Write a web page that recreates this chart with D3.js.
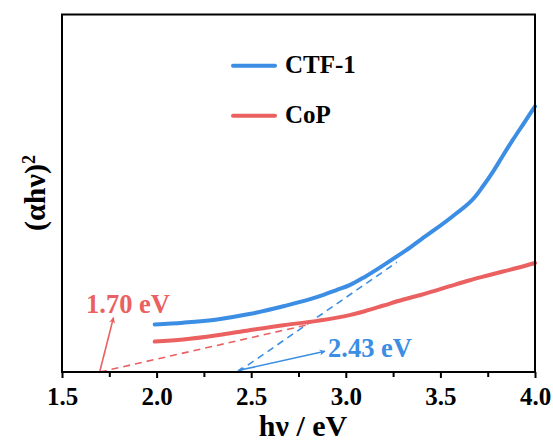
<!DOCTYPE html>
<html>
<head>
<meta charset="utf-8">
<script src="https://cdn.jsdelivr.net/npm/d3@7"></script>
<style>
  html, body { margin: 0; padding: 0; background: #fff; }
  svg { display: block; }
</style>
</head>
<body>
<svg id="chart" width="553" height="441"></svg>
<script>
// ---- data ----
const seriesNames = ["CTF-1", "CoP"];
const ctfX = [1.99, 2.14, 2.32, 2.49, 2.67, 2.85, 2.95, 3.02, 3.10, 3.20, 3.26, 3.32, 3.40, 3.47, 3.58, 3.68, 3.72, 3.78, 3.83, 3.88, 3.94, 4.00];
const ctfY = [1.33, 1.38, 1.47, 1.62, 1.84, 2.10, 2.29, 2.43, 2.66, 2.99, 3.20, 3.41, 3.72, 3.98, 4.42, 4.88, 5.16, 5.62, 6.05, 6.47, 6.95, 7.43];
const copX = [1.99, 2.14, 2.32, 2.49, 2.67, 2.85, 3.02, 3.10, 3.20, 3.30, 3.40, 3.47, 3.55, 3.65, 3.75, 3.83, 3.92, 4.00];
const copY = [0.85, 0.91, 1.03, 1.17, 1.31, 1.43, 1.59, 1.70, 1.86, 2.02, 2.16, 2.27, 2.40, 2.56, 2.70, 2.81, 2.93, 3.05];
// tangent (Tauc) extrapolation lines
const copTangentX = [1.70, 2.79];
const copTangentY = [0.00, 1.31];
const ctfTangentX = [2.43, 3.27];
const ctfTangentY = [0.00, 3.07];
const gapLabels = ["1.70 eV", "2.43 eV"];
const xTicks = [1.5, 2.0, 2.5, 3.0, 3.5, 4.0];
const xMinorTicks = [1.75, 2.25, 2.75, 3.25, 3.75];

// ---- layout ----
const W = 553, H = 441;
const M = { left: 62, right: 18, top: 14.5, bottom: 69 };
const blue = "#3b8ee3", red = "#eb6060";
const FONT = "'Liberation Serif', 'Times New Roman', Times, 'DejaVu Serif', serif";

const svg = d3.select("#chart")
  .attr("font-family", FONT).attr("font-weight", "bold");
const x = d3.scaleLinear().domain([1.5, 4.0]).range([M.left, W - M.right]);
const y = d3.scaleLinear().domain([0, 10]).range([H - M.bottom, M.top]);

const defs = svg.append("defs");
function marker(id, color) {
  defs.append("marker").attr("id", id)
    .attr("viewBox", "0 0 10 10").attr("refX", 9).attr("refY", 5)
    .attr("markerWidth", 7).attr("markerHeight", 6).attr("markerUnits", "userSpaceOnUse")
    .attr("orient", "auto-start-reverse")
    .append("path").attr("d", "M0,0 L10,5 L0,10 L3,5 Z").attr("fill", color);
}
marker("arrRed", red);
marker("arrBlue", blue);

const line = d3.line().x(d => x(d[0])).y(d => y(d[1])).curve(d3.curveMonotoneX);

// tangent dashed lines
svg.append("path").datum(copTangentX.map((v, i) => [v, copTangentY[i]]))
  .attr("d", d3.line().x(d => x(d[0])).y(d => y(d[1])))
  .attr("fill", "none").attr("stroke", red).attr("stroke-width", 1.6).attr("stroke-dasharray", "7,5");
svg.append("path").datum(ctfTangentX.map((v, i) => [v, ctfTangentY[i]]))
  .attr("d", d3.line().x(d => x(d[0])).y(d => y(d[1])))
  .attr("fill", "none").attr("stroke", blue).attr("stroke-width", 1.6).attr("stroke-dasharray", "7,5");

// curves
svg.append("path").datum(copX.map((v, i) => [v, copY[i]]))
  .attr("d", line).attr("fill", "none").attr("stroke", red).attr("stroke-width", 4).attr("stroke-linecap", "round");
svg.append("path").datum(ctfX.map((v, i) => [v, ctfY[i]]))
  .attr("d", line).attr("fill", "none").attr("stroke", blue).attr("stroke-width", 4).attr("stroke-linecap", "round");

// arrows
svg.append("line")
  .attr("x1", x(1.70)).attr("y1", y(0.02)).attr("x2", x(1.772)).attr("y2", y(1.52))
  .attr("stroke", red).attr("stroke-width", 1.6).attr("marker-end", "url(#arrRed)");
svg.append("line")
  .attr("x1", x(2.43)).attr("y1", y(0.04)).attr("x2", x(2.89)).attr("y2", y(0.58))
  .attr("stroke", blue).attr("stroke-width", 1.6)
  .attr("marker-end", "url(#arrBlue)").attr("marker-start", "url(#arrBlue)");

// gap labels
svg.append("text").attr("x", 86).attr("y", 313).attr("fill", red)
  .attr("font-size", 26.5).text(gapLabels[0]);
svg.append("text").attr("x", 328).attr("y", 357).attr("fill", blue)
  .attr("font-size", 26.5).text(gapLabels[1]);

// frame
svg.append("rect").attr("x", M.left).attr("y", M.top)
  .attr("width", W - M.left - M.right).attr("height", H - M.top - M.bottom)
  .attr("fill", "none").attr("stroke", "#000").attr("stroke-width", 2);

// x axis
const xAxis = svg.append("g").attr("transform", `translate(0,${H - M.bottom})`)
  .call(d3.axisBottom(x).tickValues(xTicks).tickFormat(d3.format(".1f")).tickSize(6).tickPadding(9))
  .attr("font-family", FONT).attr("font-size", 25);
xAxis.select(".domain").remove();
xAxis.selectAll(".tick line").attr("stroke", "#000").attr("stroke-width", 2);
xAxis.selectAll(".tick text").attr("fill", "#000");
const xMinor = svg.append("g").attr("transform", `translate(0,${H - M.bottom})`)
  .call(d3.axisBottom(x).tickValues(xMinorTicks).tickFormat("").tickSize(5));
xMinor.select(".domain").remove();
xMinor.selectAll(".tick line").attr("stroke", "#000").attr("stroke-width", 2);

// axis titles
svg.append("text").attr("x", 303).attr("y", 436).attr("text-anchor", "middle")
  .attr("font-size", 30).text("hν / eV");
const yt = svg.append("text").attr("transform", "translate(45,193) rotate(-90)")
  .attr("text-anchor", "middle").attr("font-size", 30);
yt.append("tspan").text("(αhν)");
yt.append("tspan").attr("dy", "-0.55em").attr("font-size", 18).text("2");

// legend
const legendY = [65.7, 115.7];
const legendColors = [blue, red];
seriesNames.forEach((name, i) => {
  svg.append("line").attr("x1", 233).attr("x2", 275).attr("y1", legendY[i]).attr("y2", legendY[i])
    .attr("stroke", legendColors[i]).attr("stroke-width", 4).attr("stroke-linecap", "round");
  svg.append("text").attr("x", 285).attr("y", legendY[i] + 7.5).attr("font-size", 25).text(name);
});
</script>
</body>
</html>
